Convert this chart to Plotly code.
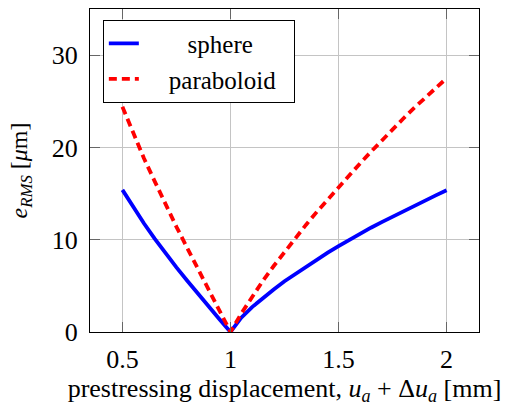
import plotly.graph_objects as go

x_vals = [0.5, 0.55, 0.6, 0.65, 0.7, 0.75, 0.8, 0.85, 0.9, 0.95, 1.0,
          1.05, 1.1, 1.15, 1.2, 1.25, 1.3, 1.35, 1.4, 1.45, 1.5,
          1.55, 1.6, 1.65, 1.7, 1.75, 1.8, 1.85, 1.9, 1.95, 2.0]

sphere = [15.4, 13.5, 11.75, 10.1, 8.5, 7.0, 5.55, 4.1, 2.7, 1.35, 0.0,
          1.55, 2.7, 3.7, 4.6, 5.5, 6.3, 7.1, 7.85, 8.6, 9.3,
          10.0, 10.65, 11.3, 11.9, 12.5, 13.1, 13.7, 14.25, 14.8, 15.35]

paraboloid = [24.4, 21.5, 18.8, 16.3, 13.8, 11.4, 9.1, 6.8, 4.5, 2.25, 0.0,
              2.0, 3.85, 5.55, 7.15, 8.68, 10.18, 11.63, 13.03, 14.38, 15.7,
              17.0, 18.28, 19.53, 20.76, 21.96, 23.13, 24.28, 25.4, 26.5, 27.5]

x_ticks = [0.5, 1, 1.5, 2]
x_tick_labels = ["0.5", "1", "1.5", "2"]
y_ticks = [0, 10, 20, 30]
y_tick_labels = ["0", "10", "20", "30"]

NB = "\u00a0"
font_family = "Liberation Serif, Times New Roman, serif"

fig = go.Figure()
fig.add_trace(go.Scatter(
    x=x_vals, y=sphere, mode="lines", name=NB * 7 + "sphere",
    line=dict(color="#0000ff", width=3.8)))
fig.add_trace(go.Scatter(
    x=x_vals, y=paraboloid, mode="lines", name=NB * 4 + "paraboloid" + NB * 2,
    line=dict(color="#ff0000", width=3.8, dash="8px,5px")))

axis_common = dict(
    showline=True, linecolor="black", linewidth=1, mirror="allticks",
    ticks="inside", ticklen=10, tickwidth=1, tickcolor="#666666",
    showgrid=True, gridcolor="#c4c4c4", gridwidth=1,
    zeroline=False, tickfont=dict(size=26, color="black", family=font_family),
    automargin=False,
)

fig.update_layout(
    width=526, height=406,
    margin=dict(l=90, r=47, t=9, b=74),
    paper_bgcolor="white", plot_bgcolor="white",
    font=dict(family=font_family, size=26, color="black"),
    showlegend=True,
    legend=dict(
        x=0.033, y=0.967, xanchor="left", yanchor="top",
        bordercolor="black", borderwidth=1, bgcolor="white",
        font=dict(size=25, family=font_family, color="black"),
        tracegroupgap=0,
    ),
    xaxis=dict(
        range=[0.35, 2.15], tickvals=x_ticks, ticktext=x_tick_labels,
        ticklabelstandoff=4,
        title=dict(text="prestressing displacement, <i>u<sub>a</sub></i> + Δ<i>u<sub>a</sub></i> [mm]",
                   font=dict(size=26, family=font_family), standoff=6),
        **axis_common,
    ),
    yaxis=dict(
        range=[0, 35], tickvals=y_ticks, ticktext=y_tick_labels,
        ticklabelstandoff=6,
        title=dict(text=NB * 7 + "<i>e<sub>RMS</sub></i> [<i>μ</i>m]",
                   font=dict(size=24, family=font_family), standoff=17),
        **axis_common,
    ),
)

fig.write_html("out.html", config={"displayModeBar": False},
               post_script="document.body.style.margin='0';document.body.style.overflow='hidden';")
